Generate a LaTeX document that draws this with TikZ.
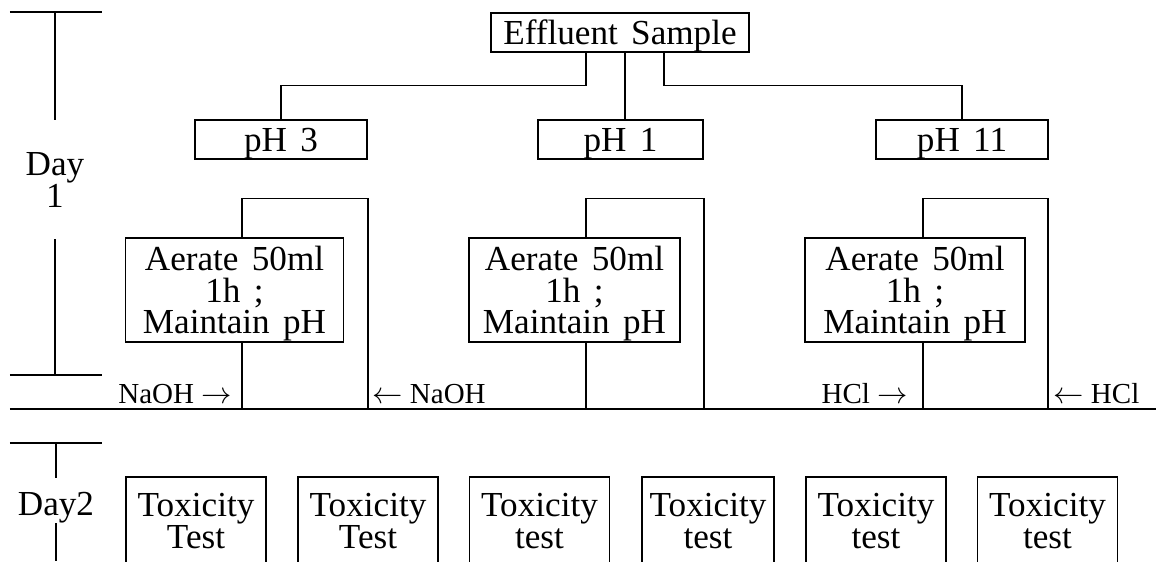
\documentclass[tikz,border=0pt]{standalone}
\usepackage{fontspec}
\setmainfont{Liberation Serif}
\usetikzlibrary{positioning, calc}

\newcommand{\boxfont}{\fontsize{20}{18}\selectfont\spaceskip=0.38em\relax\lineskiplimit=-10pt\relax}
\newcommand{\reagentfont}{\fontsize{16.5}{18}\selectfont}

\begin{document}
\begin{tikzpicture}[
    % Node styles
    box/.style={
        draw, line width=0.6pt, inner sep=0pt, text depth=0pt, align=center,
        font=\boxfont
    },
    samplebox/.style={box, minimum width=5.16cm, minimum height=0.78cm},
    phbox/.style={box, minimum width=3.44cm, minimum height=0.78cm},
    aeratebox/.style={box, minimum width=4.36cm, minimum height=2.08cm},
    toxbox/.style={box, minimum width=2.8cm, minimum height=1.76cm},
    % Text-only styles
    daylabel/.style={inner sep=0pt, text depth=0pt, align=center, font=\boxfont},
    reagent/.style={inner sep=0pt, text depth=0pt, font=\reagentfont},
    % Line style
    link/.style={line width=0.6pt},
]
\useasboundingbox (0,0) rectangle (23.12,11.22);

% ============================================================
% DAY MARKERS (left column) and day separator
% ============================================================

% --- Day 1 bracket ---
\draw[link] (0.2,10.98) -- (2.04,10.98)  (1.10,10.98) -- (1.10,8.82);
\node[daylabel] (day1) at (1.10,7.62) {Day\\1};
\draw[link] (1.10,6.44) -- (1.10,3.72)  (0.2,3.72) -- (2.04,3.72);

% --- Separator line ---
\draw[link] (0.2,3.04) -- (23.12,3.04);

% --- Day 2 bracket ---
\draw[link] (0.2,2.36) -- (2.04,2.36)  (1.12,2.36) -- (1.12,1.66);
\node[daylabel] (day2) at (1.12,1.14) {Day2};
\draw[link] (1.12,0.76) -- (1.12,0);

% ============================================================
% SAMPLE AND pH SPLIT
% ============================================================
\node[samplebox] (sample) at (12.40,10.57) {Effluent Sample};

\node[phbox] (ph3) at (5.62,8.43) {pH 3};
\node[phbox, minimum width=3.3cm] (ph1) at (12.41,8.43) {pH 1};
\node[phbox] (ph11) at (19.24,8.43) {pH 11};

\draw[link] ([xshift=-6.8mm]sample.south) -- ++(0,-0.66) -| (ph3.north);
\draw[link] ([xshift=1mm]sample.south) -- ([xshift=1mm]sample.south |- ph1.north);
\draw[link] ([xshift=8.8mm]sample.south) -- ++(0,-0.66) -| (ph11.north);

% ============================================================
% AERATION (loop from box top down to separator)
% ============================================================
\node[aeratebox] (aer3) at (4.69,5.42) {Aerate 50ml\\1h ;\\Maintain pH};
\node[aeratebox, minimum width=4.22cm] (aer1) at (11.49,5.42) {Aerate 50ml\\1h ;\\Maintain pH};
\node[aeratebox, minimum width=4.40cm] (aer11) at (18.30,5.42) {Aerate 50ml\\1h ;\\Maintain pH};

\draw[link] ([xshift=1.5mm]aer3.north) -- ++(0,0.78) -- ++(2.52,0) -- ++(0,-4.20);
\draw[link] ([xshift=1.5mm]aer3.south) -- ++(0,-1.34);

\draw[link] ([xshift=2.3mm]aer1.north) -- ++(0,0.78) -- ++(2.36,0) -- ++(0,-4.20);
\draw[link] ([xshift=2.3mm]aer1.south) -- ++(0,-1.34);

\draw[link] ([xshift=1.6mm]aer11.north) -- ++(0,0.78) -- ++(2.50,0) -- ++(0,-4.20);
\draw[link] ([xshift=1.6mm]aer11.south) -- ++(0,-1.34);

% Reagents
\node[reagent, anchor=east] (naohL) at (4.64,3.35) {NaOH $\rightarrow$};
\node[reagent, anchor=west] (naohR) at (7.44,3.35) {$\leftarrow$ NaOH};
\node[reagent, anchor=east] (hclL) at (18.16,3.35) {HCl $\rightarrow$};
\node[reagent, anchor=west] (hclR) at (21.06,3.35) {$\leftarrow$ HCl};

% ============================================================
% DAY 2: TOXICITY TESTS
% ============================================================
\node[toxbox] (tox1) at (3.92,0.80) {Toxicity\\Test};
\node[toxbox] (tox2) at (7.36,0.80) {Toxicity\\Test};
\node[toxbox] (tox3) at (10.79,0.80) {Toxicity\\test};
\node[toxbox, minimum width=2.64cm] (tox4) at (14.16,0.80) {Toxicity\\test};
\node[toxbox] (tox5) at (17.52,0.80) {Toxicity\\test};
\node[toxbox] (tox6) at (20.95,0.80) {Toxicity\\test};

\end{tikzpicture}
\end{document}
